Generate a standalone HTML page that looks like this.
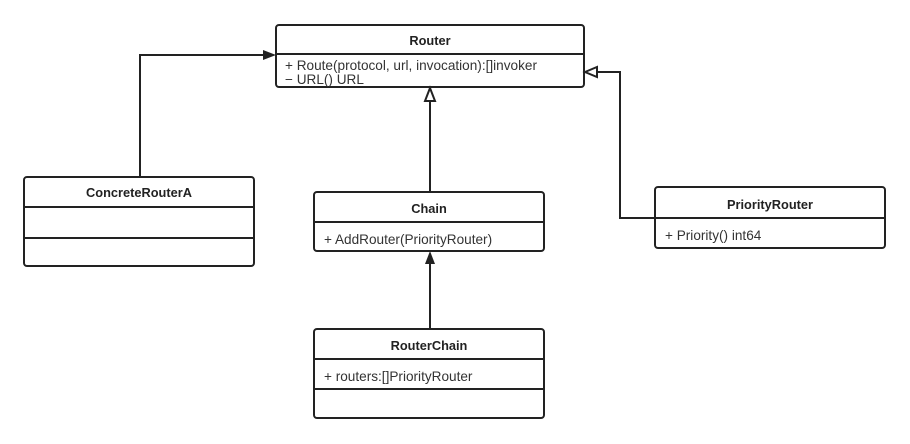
<!DOCTYPE html>
<html><head><meta charset="utf-8"><style>
html,body{margin:0;padding:0;background:#fff;width:910px;height:444px;overflow:hidden}
text{font-family:"Liberation Sans",sans-serif;font-size:13.6px;fill:#333}
text.t{font-size:12.8px;font-weight:bold;fill:#222}
</style></head><body>
<svg width="910" height="444" xmlns="http://www.w3.org/2000/svg">
<g fill="none" stroke="#222" stroke-width="2">
<rect x="276" y="25" width="308" height="62" rx="3"/>
<line x1="276" y1="54" x2="584" y2="54"/>
<rect x="24" y="177" width="230" height="89" rx="3"/>
<line x1="24" y1="207" x2="254" y2="207"/>
<line x1="24" y1="238" x2="254" y2="238"/>
<rect x="314" y="192" width="230" height="59" rx="3"/>
<line x1="314" y1="222" x2="544" y2="222"/>
<rect x="314" y="329" width="230" height="89" rx="3"/>
<line x1="314" y1="359" x2="544" y2="359"/>
<line x1="314" y1="389" x2="544" y2="389"/>
<rect x="655" y="187" width="230" height="61" rx="3"/>
<line x1="655" y1="218" x2="885" y2="218"/>
<polyline points="140,177 140,55 264,55"/>
<line x1="430" y1="192" x2="430" y2="101"/>
<line x1="430" y1="329" x2="430" y2="264"/>
<polyline points="655,218 620,218 620,72 597,72"/>
</g>
<polygon points="276,55 263,50 263,60" fill="#222"/>
<polygon points="430,88 425,101 435,101" fill="#fff" stroke="#222" stroke-width="2"/>
<polygon points="430,251 425,264 435,264" fill="#222"/>
<polygon points="585,72 597,67 597,77" fill="#fff" stroke="#222" stroke-width="2"/>
<text class="t" x="430" y="45" text-anchor="middle">Router</text>
<text class="t" x="139" y="197" text-anchor="middle">ConcreteRouterA</text>
<text class="t" x="429" y="213" text-anchor="middle">Chain</text>
<text class="t" x="429" y="350" text-anchor="middle">RouterChain</text>
<text class="t" x="770" y="209" text-anchor="middle">PriorityRouter</text>
<text x="285" y="70">+ Route(protocol, url, invocation):[]invoker</text>
<text x="285" y="84">− URL() URL</text>
<text x="324" y="244">+ AddRouter(PriorityRouter)</text>
<text x="324" y="381">+ routers:[]PriorityRouter</text>
<text x="665" y="240">+ Priority() int64</text>
</svg>
</body></html>
